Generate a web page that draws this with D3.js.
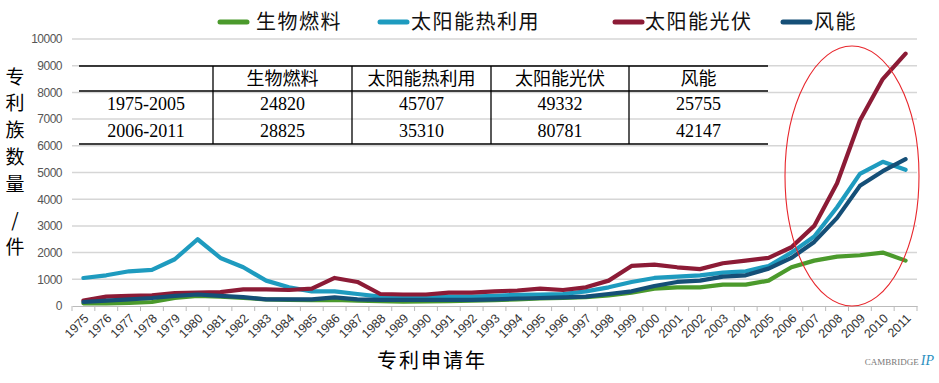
<!DOCTYPE html>
<html><head><meta charset="utf-8">
<script src="https://cdn.jsdelivr.net/npm/d3@7"></script>
<style>body{margin:0;background:#fff}svg{display:block}</style>
</head><body><svg id="c" width="939" height="383"></svg>
<script>
const years = d3.range(1975, 2012).map(String);
const seriesNames = ["生物燃料", "太阳能热利用", "太阳能光伏", "风能"];
const biofuel = [100,100,120,150,300,380,350,300,250,230,220,230,200,180,160,170,180,200,220,250,280,300,330,400,500,650,700,700,800,800,950,1450,1700,1850,1900,2000,1700];
const solarThermal = [1050,1150,1300,1350,1750,2500,1800,1450,950,700,550,550,450,350,350,350,350,350,380,420,430,450,550,700,900,1050,1100,1150,1250,1300,1500,2000,2600,3700,4950,5400,5100];
const solarPV = [200,350,380,400,480,500,520,620,620,600,650,1050,900,450,430,430,500,500,550,580,650,600,700,950,1500,1550,1450,1380,1600,1700,1800,2200,3000,4600,6950,8500,9450];
const wind = [150,200,250,300,380,430,380,330,250,250,250,320,250,230,230,230,230,230,250,280,300,320,350,450,550,750,900,950,1100,1150,1400,1800,2400,3300,4500,5050,5500];
const yTicks = [0,1000,2000,3000,4000,5000,6000,7000,8000,9000,10000];
const tableHeader = ["", "生物燃料", "太阳能热利用", "太阳能光伏", "风能"];
const tableRows = [["1975-2005","24820","45707","49332","25755"],["2006-2011","28825","35310","80781","42147"]];
const yTitle = ["专","利","族","数","量","/","件"];
const xTitle = "专利申请年";

const colors = ["#4b9a2c", "#1e9bbf", "#8c1b36", "#154f77"];
const seriesData = [biofuel, solarThermal, solarPV, wind];

const svg = d3.select("#c");
const x = d3.scaleBand().domain(years).range([72, 917]).paddingInner(0).paddingOuter(0);
const y = d3.scaleLinear().domain([0, 10000]).range([306, 39]);
const cx = d => x(d) + x.bandwidth()/2;

// gridlines
svg.append("g").selectAll("line").data(yTicks.filter(v=>v>0)).join("line")
  .attr("x1", 72).attr("x2", 917).attr("y1", d=>y(d)).attr("y2", d=>y(d))
  .attr("stroke", "#d6d6d6").attr("stroke-width", 1.5);

// y axis labels
const ya = svg.append("g").attr("transform","translate(62,0)")
  .call(d3.axisLeft(y).tickValues(yTicks).tickSize(0).tickPadding(0).tickFormat(d3.format("d")));
ya.select(".domain").remove();
ya.selectAll("text").attr("font-family","Arial, Liberation Sans, sans-serif").attr("font-size",12).attr("fill","#555").attr("letter-spacing","-0.5");

// x axis
const xa = svg.append("g").attr("transform","translate(0,306)")
  .call(d3.axisBottom(x).tickSize(0));
xa.select(".domain").attr("stroke","#bbb").attr("stroke-width",1.2);
xa.selectAll("text").attr("font-family","Arial, Liberation Sans, sans-serif").attr("font-size",12.5).attr("fill","#333")
  .attr("text-anchor","end").attr("x",0).attr("y",0).attr("dy","0.35em")
  .attr("transform","translate(3,10) rotate(-45)");
// tick marks at band edges
svg.append("g").selectAll("line").data(years.concat(["end"])).join("line")
  .attr("x1", (d,i)=> i<years.length ? x(d) : 917).attr("x2", (d,i)=> i<years.length ? x(d) : 917)
  .attr("y1",306).attr("y2",311).attr("stroke","#bbb").attr("stroke-width",1);

// lines
const line = d3.line().x((d,i)=>cx(years[i])).y(d=>y(d));
seriesData.forEach((s,k)=>{
  svg.append("path").datum(s).attr("d", line).attr("fill","none")
    .attr("stroke", colors[k]).attr("stroke-width", 4.2).attr("stroke-linejoin","round").attr("stroke-linecap","round");
});

// legend
const legendX = [[220,256],[380,411],[615,645],[783,814]];
seriesNames.forEach((n,k)=>{
  svg.append("line").attr("x1",legendX[k][0]).attr("x2",legendX[k][0]+27).attr("y1",22).attr("y2",22)
    .attr("stroke",colors[k]).attr("stroke-width",5).attr("stroke-linecap","round");
  svg.append("text").attr("x",legendX[k][1]).attr("y",22).attr("dy","0.36em")
    .attr("font-family","Noto Sans CJK SC").attr("font-size",20).attr("fill","#111").attr("letter-spacing","1.5").text(n);
});

// table
const colEdges = [79,213,352,491,629,768];
const hLines = [66,91,144];
svg.append("g").selectAll("line").data(hLines).join("line")
  .attr("x1",79).attr("x2",768).attr("y1",d=>d).attr("y2",d=>d).attr("stroke","#000").attr("stroke-width",1.3);
svg.append("g").selectAll("line").data(colEdges.slice(1,5)).join("line")
  .attr("x1",d=>d).attr("x2",d=>d).attr("y1",66).attr("y2",144).attr("stroke","#000").attr("stroke-width",1.3);
tableHeader.forEach((t,i)=>{
  svg.append("text").attr("x",(colEdges[i]+colEdges[i+1])/2).attr("y",78.5).attr("dy","0.36em")
    .attr("text-anchor","middle").attr("font-family","Noto Sans CJK SC").attr("font-size",18).attr("fill","#000").text(t);
});
tableRows.forEach((r,j)=>{
  r.forEach((t,i)=>{
    svg.append("text").attr("x",(colEdges[i]+colEdges[i+1])/2).attr("y",104+j*27).attr("dy","0.36em")
      .attr("text-anchor","middle").attr("font-family","Liberation Serif, Times New Roman, serif").attr("font-size",18).attr("fill","#000").text(t);
  });
});

// y title
yTitle.forEach((c,i)=>{
  svg.append("text").attr("x",15).attr("y",[77,103,130,157,184,220,247][i]).attr("dy","0.36em")
    .attr("text-anchor","middle").attr("font-family","Noto Sans CJK SC").attr("font-size",19).attr("fill","#000").text(c);
});
// x title
svg.append("text").attr("x",432).attr("y",361).attr("dy","0.36em").attr("text-anchor","middle")
  .attr("font-family","Noto Sans CJK SC").attr("font-size",20).attr("fill","#000").attr("letter-spacing","2").text(xTitle);

// ellipse
svg.append("ellipse").attr("cx",852).attr("cy",176).attr("rx",67).attr("ry",130)
  .attr("fill","none").attr("stroke","#e8262c").attr("stroke-width",1.1);

// logo
const logo = svg.append("text").attr("x",934).attr("y",365).attr("text-anchor","end").attr("font-family","Liberation Serif, serif");
logo.append("tspan").attr("font-size",9).attr("fill","#777").text("CAMBRIDGE");
logo.append("tspan").attr("font-size",14).attr("fill","#2a8fc0").attr("font-style","italic").attr("dx",2).text("IP");
</script></body></html>
